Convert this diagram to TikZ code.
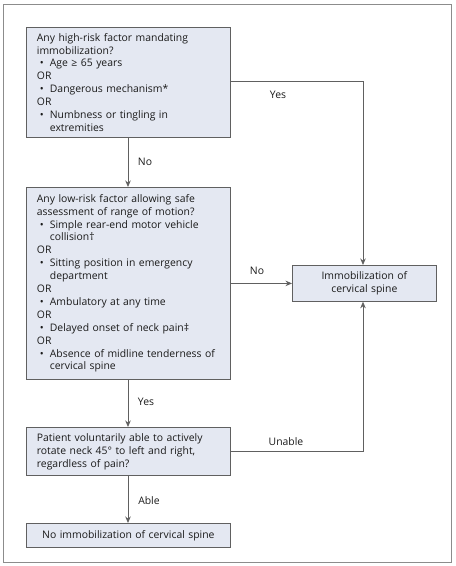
\documentclass[tikz,border=0pt]{standalone}
\usepackage{fontspec}
\setmainfont{Open Sans}
\usetikzlibrary{arrows.meta}
\definecolor{boxfill}{HTML}{E4E8F2}
\definecolor{boxdraw}{HTML}{606060}
\definecolor{framedraw}{HTML}{8C8C8C}
\definecolor{txt}{HTML}{1A1A1A}
\newcommand{\bitem}[1]{\mbox{\hspace*{3pt}\makebox[10pt][l]{\textbullet}#1}}
\newcommand{\bcont}[1]{\mbox{\hspace*{13pt}#1}}
\begin{document}
\begin{tikzpicture}[x=1pt,y=-1pt,
  every node/.style={font=\fontsize{10.4}{12.9}\selectfont, text=txt},
  box/.style={draw=boxdraw, fill=boxfill, line width=0.8pt, rectangle, anchor=north west,
     inner xsep=10.5pt, inner ysep=0pt, align=left},
  conn/.style={draw=boxdraw, line width=0.8pt},
  arr/.style={conn, -{Stealth[length=6.5pt,width=5.5pt]}},
  lbl/.style={inner sep=1pt}]
\useasboundingbox (0,0) rectangle (456,566);
\draw[framedraw, line width=0.8pt] (3,4) rectangle (451,562);
\node[box, text width=183pt, minimum height=110pt] (b1) at (26,27) {%
\mbox{Any high-risk factor mandating}\\
immobilization?\\
\bitem{Age ≥ 65 years}\\
OR\\
\bitem{Dangerous mechanism*}\\
OR\\
\bitem{Numbness or tingling in}\\
\bcont{extremities}};
\node[box, text width=183pt, minimum height=192pt] (b2) at (26,187) {%
\mbox{Any low-risk factor allowing safe}\\
\mbox{assessment of range of motion?}\\
\bitem{Simple rear-end motor vehicle}\\
\bcont{collision†}\\
OR\\
\bitem{Sitting position in emergency}\\
\bcont{department}\\
OR\\
\bitem{Ambulatory at any time}\\
OR\\
\bitem{Delayed onset of neck pain‡}\\
OR\\
\bitem{Absence of midline tenderness of}\\
\bcont{cervical spine}};
\node[box, text width=183pt, minimum height=48pt] (b3) at (26,427) {%
\mbox{Patient voluntarily able to actively}\\
\mbox{rotate neck 45° to left and right,}\\
regardless of pain?};
\node[box, text width=183pt, minimum height=24pt, align=center] (b4) at (26,523) {\mbox{No immobilization of cervical spine}};
\node[box, inner xsep=4pt, text width=136pt, minimum height=36pt, align=center] (im) at (292,265) {Immobilization of\\cervical spine};
\coordinate (c1) at (363,81);
\coordinate (c2) at (363,451);
\draw[arr] (b1.south -| 128,0) -- (b2.north -| 128,0);
\draw[arr] (b2.south -| 128,0) -- (b3.north -| 128,0);
\draw[arr] (b3.south -| 128,0) -- (b4.north -| 128,0);
\draw[arr] (b1.east |- c1) -- (c1) -- (im.north -| c1);
\draw[arr] (b2.east |- im) -- (im.west);
\draw[arr] (b3.east |- c2) -- (c2) -- (im.south -| c2);
\node[lbl] (lno1) at (145,162) {No};
\node[lbl] (lyes1) at (278,95) {Yes};
\node[lbl] (lno2) at (257,271) {No};
\node[lbl] (lyes2) at (146,402) {Yes};
\node[lbl] (lun) at (286,442) {Unable};
\node[lbl] (lable) at (149,501) {Able};
\end{tikzpicture}
\end{document}
